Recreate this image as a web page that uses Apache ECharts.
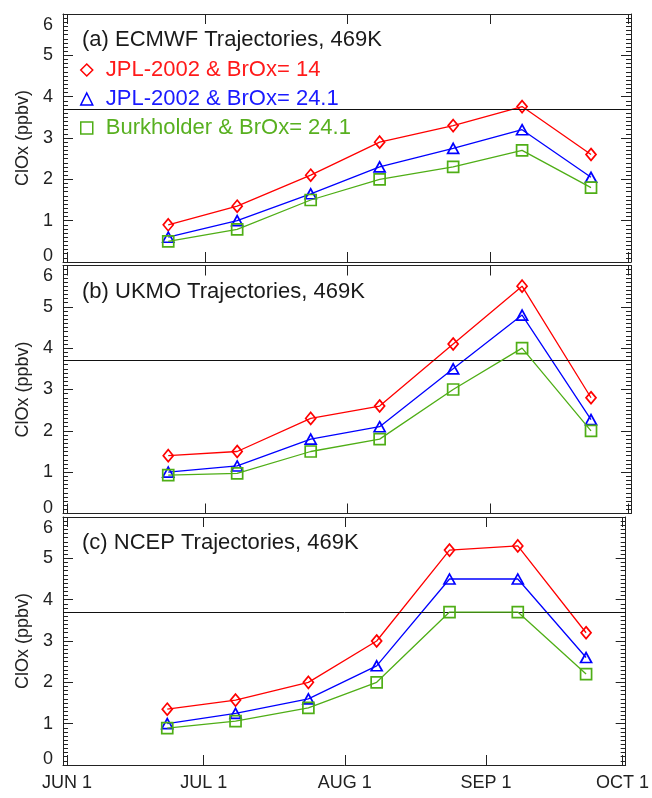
<!DOCTYPE html>
<html>
<head>
<meta charset="utf-8">
<script src="https://cdn.jsdelivr.net/npm/echarts@6/dist/echarts.min.js"></script>
<style>html,body{margin:0;padding:0;background:#fff}#c{width:652px;height:798px}</style>
</head>
<body>
<div id="c"></div>
<script>
// ---- data ----
const monthLabels = ['JUN 1', 'JUL 1', 'AUG 1', 'SEP 1', 'OCT 1'];
const monthDates = ['06-01', '07-01', '08-01', '09-01', '10-01'];
const sampleDates = ['06-23', '07-08', '07-24', '08-08', '08-24', '09-08', '09-23'];
const seriesNames = ['JPL-2002 & BrOx= 14', 'JPL-2002 & BrOx= 24.1', 'Burkholder & BrOx= 24.1'];
const panelTitles = ['(a) ECMWF Trajectories, 469K', '(b) UKMO Trajectories, 469K', '(c) NCEP Trajectories, 469K'];
const yTicks = [0, 1, 2, 3, 4, 5, 6];
const threshold = 3.7;

const ecmwf_jpl14 = [0.9, 1.35, 2.1, 2.9, 3.3, 3.76, 2.6];
const ecmwf_jpl241 = [0.6, 1.0, 1.65, 2.3, 2.75, 3.2, 2.05];
const ecmwf_burk241 = [0.5, 0.79, 1.5, 2.0, 2.3, 2.7, 1.8];

const ukmo_jpl14 = [1.4, 1.5, 2.3, 2.6, 4.1, 5.5, 2.8];
const ukmo_jpl241 = [1.0, 1.15, 1.8, 2.1, 3.5, 4.8, 2.27];
const ukmo_burk241 = [0.93, 0.97, 1.5, 1.8, 3.0, 4.0, 2.0];

const ncep_jpl14 = [1.35, 1.57, 2.0, 3.0, 5.2, 5.3, 3.2];
const ncep_jpl241 = [1.0, 1.25, 1.6, 2.4, 4.5, 4.5, 2.6];
const ncep_burk241 = [0.89, 1.06, 1.38, 2.0, 3.7, 3.7, 2.2];

// ---- helpers ----
function dayOffset(md) {
  const [m, d] = md.split('-').map(Number);
  return (Date.UTC(2003, m - 1, d) - Date.UTC(2003, 5, 1)) / 86400000;
}
const monthDays = monthDates.map(dayOffset);
const sampleDays = sampleDates.map(dayOffset);
const panels = [
  [ecmwf_jpl14, ecmwf_jpl241, ecmwf_burk241],
  [ukmo_jpl14, ukmo_jpl241, ukmo_burk241],
  [ncep_jpl14, ncep_jpl241, ncep_burk241]
];
const colors = ['#ff0000', '#0000ff', '#4fae16'];
const textColors = ['#ff1a1a', '#1a1aff', '#58b020'];
const symbols = ['diamond', 'triangle', 'rect'];
const symbolSizes = [[10, 12], [11, 10], 11];
const FONT = 'Liberation Sans, Arial, Helvetica, sans-serif';
const AX = '#222';

const gridTops = [14, 265.5, 517];
const gridH = 248;
const xMin = -0.9, xMax = 122.7;

const grids = [], xAxes = [], yAxes = [], series = [], titles = [];
gridTops.forEach((top, i) => {
  grids.push({ left: 63, right: 21, top: top, height: gridH, containLabel: false });
  const baseX = {
    type: 'value', gridIndex: i, min: xMin, max: xMax,
    splitLine: { show: false },
    axisLine: { show: true, onZero: false, lineStyle: { color: AX, width: 1 } },
    axisTick: { show: true, inside: true, length: 10, customValues: monthDays, lineStyle: { color: AX } },
  };
  xAxes.push(Object.assign({}, baseX, {
    position: 'bottom',
    axisLabel: {
      show: i === 2, customValues: monthDays, margin: 9,
      fontFamily: FONT, fontSize: 18, color: '#222',
      formatter: v => monthLabels[monthDays.indexOf(v)] || ''
    }
  }));
  xAxes.push(Object.assign({}, baseX, { position: 'top', axisLabel: { show: false } }));
  const baseY = {
    type: 'value', gridIndex: i, min: yTicks[0], max: yTicks[yTicks.length - 1], interval: 1,
    splitLine: { show: false },
    axisLine: { show: true, onZero: false, lineStyle: { color: AX, width: 1 } },
    axisTick: { show: true, inside: true, length: 10, lineStyle: { color: AX } },
    minorTick: { show: true, splitNumber: 10, length: 5, lineStyle: { color: AX } }
  };
  yAxes.push(Object.assign({}, baseY, {
    position: 'left',
    name: 'ClOx (ppbv)', nameLocation: 'middle', nameGap: 30, nameRotate: 90,
    nameTextStyle: { fontFamily: FONT, fontSize: 18, color: '#222' },
    axisLabel: {
      show: true, margin: 10, fontFamily: FONT, fontSize: 18, color: '#222',
      formatter: v => v === 6 ? '{t|6}' : (v === 0 ? '{b|0}' : String(v)),
      rich: {
        t: { fontFamily: FONT, fontSize: 18, color: '#222', padding: [22, 0, 0, 0] },
        b: { fontFamily: FONT, fontSize: 18, color: '#222', padding: [0, 0, 11, 0] }
      }
    }
  }));
  yAxes.push(Object.assign({}, baseY, { position: 'right', axisLabel: { show: false } }));

  titles.push({
    text: panelTitles[i], left: 82, top: top + 15, padding: 0,
    textStyle: { fontFamily: FONT, fontSize: 22, fontWeight: 'normal', color: '#1a1a1a' }
  });

  panels[i].forEach((vals, k) => {
    const s = {
      type: 'line', name: seriesNames[k],
      xAxisIndex: 2 * i, yAxisIndex: 2 * i,
      data: vals.map((v, j) => [sampleDays[j], v]),
      symbol: symbols[k], symbolSize: symbolSizes[k], showAllSymbol: true,
      lineStyle: { color: colors[k], width: 1.3 },
      itemStyle: { color: 'transparent', borderColor: colors[k], borderWidth: 1.7 },
      emphasis: { disabled: true },
      z: 3 + k
    };
    if (k === 0) {
      s.markLine = {
        silent: true, symbol: ['none', 'none'], animation: false,
        label: { show: false },
        lineStyle: { color: '#111', type: 'solid', width: 1 },
        data: [{ yAxis: threshold }]
      };
    }
    series.push(s);
  });
});

const chart = echarts.init(document.getElementById('c'), null, { renderer: 'canvas' });
chart.setOption({
  animation: false,
  backgroundColor: '#fff',
  title: titles,
  legend: {
    orient: 'vertical', left: 80, top: 59, padding: 0,
    itemWidth: 12, itemHeight: 12, itemGap: 7, selectedMode: false,
    textStyle: { fontFamily: FONT, fontSize: 22, lineHeight: 22, padding: [0, 0, 0, 8] },
    data: seriesNames.map((n, k) => ({
      name: n, icon: symbols[k],
      itemStyle: { color: 'transparent', borderColor: colors[k], borderWidth: 1.5 },
      textStyle: { color: textColors[k] }
    }))
  },
  grid: grids,
  xAxis: xAxes,
  yAxis: yAxes,
  series: series
});
</script>
</body>
</html>
